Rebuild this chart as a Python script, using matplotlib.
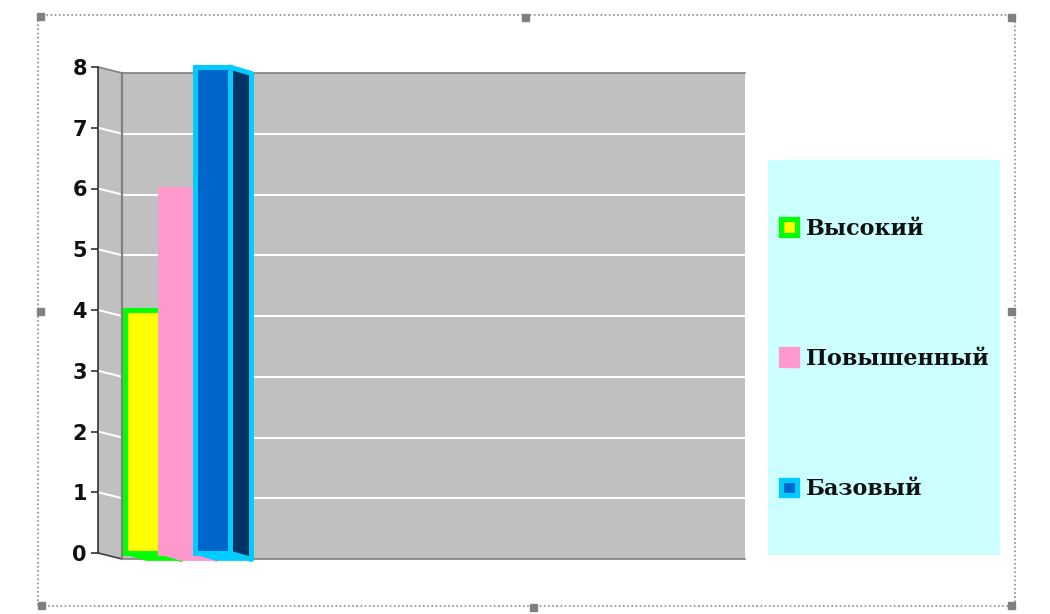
import matplotlib
matplotlib.use("Agg")
import matplotlib.pyplot as plt
from matplotlib.patches import Patch, Polygon, Rectangle

# data
categorias = ["Высокий", "Повышенный", "Базовый"]
valores = [4, 6, 8]
cor_frente = ["#ffff00", "#ff99cc", "#0066cc"]
cor_borda = ["#00ff00", "#ff99cc", "#00ccff"]
cor_lado = ["#ff99cc", "#ff99cc", "#003366"]
ticks_y = [0, 1, 2, 3, 4, 5, 6, 7, 8]

W, H = 1050, 614


def caixa(x0, y0, x1, y1):
    # pixel box (top-left origin) to figure fraction
    return [x0 / W, 1 - y1 / H, (x1 - x0) / W, (y1 - y0) / H]


fig = plt.figure(figsize=(W / 100, H / 100), dpi=100, facecolor="white")

# overlay in pixels for the frame, side wall and legend box
fundo = fig.add_axes([0, 0, 1, 1], zorder=0)
fundo.set_xlim(0, W)
fundo.set_ylim(H, 0)
fundo.axis("off")

# dotted selection frame with its handles
fundo.add_patch(Rectangle((38, 15), 977, 591, fill=False, ec="#8c8c8c", lw=1.2, ls=(0, (1, 1.5))))
for hx, hy in [(40, 16), (525, 17), (1011, 17), (40, 311), (1011, 311), (41, 605), (533, 607), (1011, 605)]:
    fundo.add_patch(Rectangle((hx - 3.5, hy - 3.5), 7, 7, color="#808080"))

# left wall
fundo.add_patch(Polygon([(98, 67), (122, 73), (122, 559), (98, 553)], fc="#c0c0c0", ec="none"))
for t in ticks_y[1:-1]:
    y_f = 553 - t * 60.75
    fundo.plot([98, 122], [y_f, y_f + 6], color="white", lw=1.5)
fundo.plot([98, 122], [67, 73], color="#808080", lw=1.2)
fundo.plot([98, 122], [553, 559], color="#404040", lw=1.2)

# legend box
fundo.add_patch(Rectangle((768, 160), 231, 394, color="#ccffff"))

# back wall
parede = fig.add_axes(caixa(122, 73, 745, 559), zorder=1)
parede.set_facecolor("#c0c0c0")
parede.set_xlim(0, 1)
parede.set_ylim(0, 8)
parede.set_xticks([])
parede.set_yticks(ticks_y[1:-1])
parede.tick_params(left=False, labelleft=False)
parede.grid(axis="y", color="white", lw=1.5)
for lado, s in parede.spines.items():
    s.set_color("#808080")
    s.set_linewidth(1.2)
parede.spines["left"].set_linewidth(1.6)
parede.spines["right"].set_visible(False)

# front plane, carries the bars and the value axis
ax = fig.add_axes(caixa(98, 67, 745, 553), zorder=2)
ax.patch.set_alpha(0)
unidade = 35.0
ax.set_xlim((98 - 142) / unidade, (745 - 142) / unidade)
ax.set_ylim(0, 8)
ax.set_xticks([])
ax.set_yticks(ticks_y)
ax.set_yticklabels([str(t) for t in ticks_y], fontfamily="DejaVu Sans", fontweight="bold",
                   fontsize=15, color="#111111")
ax.tick_params(axis="y", length=5, width=1.2, color="#333333", pad=3)
for lado in ["top", "right", "bottom"]:
    ax.spines[lado].set_visible(False)
ax.spines["left"].set_color("#333333")
ax.spines["left"].set_linewidth(1.2)

dx = 22 / unidade
dy = -6.5 / 60.75
largura = 1.0

for i in range(len(valores)):
    x0 = i - largura / 2
    x1 = i + largura / 2
    v = valores[i]
    z = 3 + i
    # floor
    ax.add_patch(Polygon([(x0, 0), (x1, 0), (x1 + dx, dy), (x0 + dx, dy)], fc=cor_borda[i],
                         ec=cor_borda[i], lw=2, zorder=z, clip_on=False))
    # side face
    ax.add_patch(Polygon([(x1, 0), (x1, v), (x1 + dx, v + dy), (x1 + dx, dy)], fc=cor_lado[i],
                         ec=cor_borda[i], lw=3.6, zorder=z, clip_on=False, joinstyle="round"))
    # front face
    ax.bar(i, v, width=largura, color=cor_frente[i], edgecolor=cor_borda[i],
           linewidth=3.6, zorder=z + 0.5, clip_on=False)

# legend
alcas = [Patch(facecolor=cor_frente[i], edgecolor=cor_borda[i], linewidth=3.8, joinstyle="round")
         for i in range(3)]
leg = fig.legend(alcas, categorias, loc="center left", bbox_to_anchor=(781 / W, 1 - 359 / H),
                 frameon=False, borderpad=0, borderaxespad=0, labelspacing=4.88,
                 handlelength=0.7, handleheight=0.7, handletextpad=0.43,
                 prop={"family": "DejaVu Serif", "weight": "bold", "size": 16})
leg.set_zorder(5)
for t in leg.get_texts():
    t.set_color("#111111")

fig.savefig("out.png", dpi=100)
